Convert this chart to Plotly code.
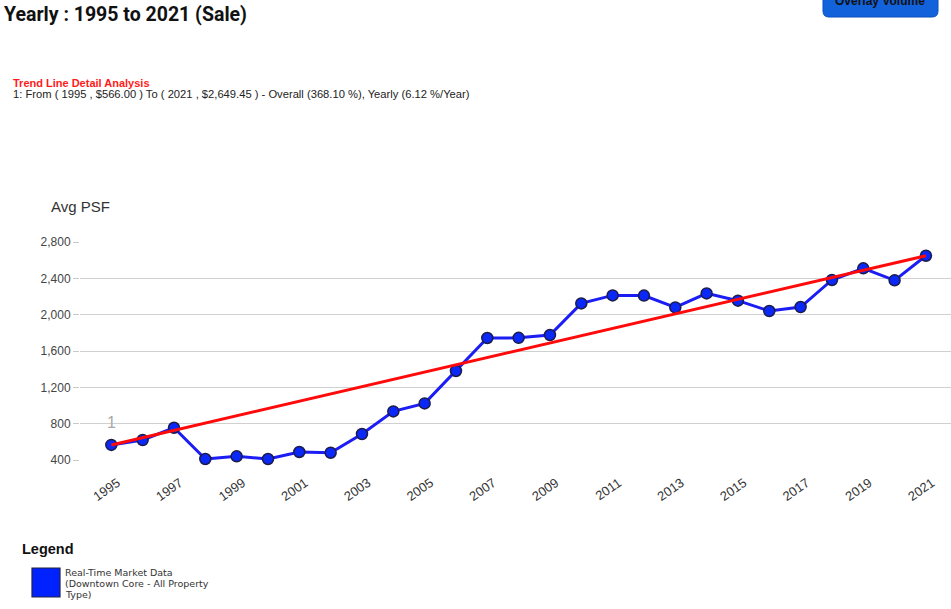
import plotly.graph_objects as go

years = list(range(1995, 2022))
avg_psf = [566, 620, 755, 411, 440, 411, 488, 480, 686, 935, 1023, 1380,
           1743, 1745, 1776, 2124, 2212, 2210, 2080, 2234, 2154, 2040, 2084,
           2382, 2510, 2378, 2649]
trend_years = [1995, 2021]
trend_values = [566.00, 2649.45]
tick_years = list(range(1995, 2022, 2))
y_ticks = [400, 800, 1200, 1600, 2000, 2400, 2800]

title_text = "Yearly : 1995 to 2021 (Sale)"
trend_title = "Trend Line Detail Analysis"
trend_detail = "1: From ( 1995 , $566.00 ) To ( 2021 , $2,649.45 ) - Overall (368.10 %), Yearly (6.12 %/Year)"
legend_lines = ["Real-Time Market Data", "(Downtown Core - All Property", "Type)"]

L, T, B = 80, 242, 460  # plot area pixel edges
W, H = 951, 609

fig = go.Figure()
fig.add_trace(go.Scatter(
    x=years, y=avg_psf, mode="lines+markers",
    line=dict(color="#1c1cf5", width=3),
    marker=dict(size=11, color="#0a28f8", line=dict(color="#1c1c4a", width=1.5)),
    cliponaxis=False, showlegend=False,
))
fig.add_trace(go.Scatter(
    x=trend_years, y=trend_values, mode="lines",
    line=dict(color="#ff0a0a", width=3),
    cliponaxis=False, showlegend=False,
))

fig.update_layout(
    width=W, height=H,
    margin=dict(l=L, r=0, t=T, b=H - B),
    paper_bgcolor="white", plot_bgcolor="white",
    font=dict(family="Liberation Sans, Arial, sans-serif", color="#333"),
    xaxis=dict(range=[1994.0, 2021.8], tickvals=tick_years, tickangle=-35,
               showgrid=False, zeroline=False, showline=False,
               tickfont=dict(size=13, color="#333"), ticks="",
               ticklabelstandoff=12, ticklabelshift=6),
    yaxis=dict(range=[400, 2800], tickvals=y_ticks, tickformat=",",
               showgrid=True, gridcolor="#d0d0d0", gridwidth=1.2,
               zeroline=False, showline=False,
               ticks="outside", ticklen=6, tickcolor="#c8c8c8",
               tickfont=dict(size=12, color="#444")),
)

def text_at(xp, yp, text, size, color, family="Liberation Sans, Arial, sans-serif",
            xanchor="left"):
    return dict(xref="paper", yref="paper", x=0, y=1, xanchor=xanchor, yanchor="middle",
                text=text, showarrow=False, align="left",
                font=dict(family=family, size=size, color=color),
                xshift=xp - L, yshift=T - yp)

ann = [
    text_at(2, 14, f"<b>{title_text}</b>", 19.5, "#111", "Roboto, Liberation Sans, sans-serif"),
    text_at(11, 83, f"<b>{trend_title}</b>", 11, "#ff1a1a"),
    text_at(11, 93.5, trend_detail, 11.2, "#222"),
    text_at(49, 206, "Avg PSF", 15, "#333"),
    text_at(20, 549, "<b>Legend</b>", 14.5, "#111"),
    text_at(880, 1, "<b>Overlay Volume</b>", 12, "#111", xanchor="center"),
]
for i, line in enumerate(legend_lines):
    ann.append(text_at(63, 572 + 11 * i, line, 9.5, "#333", "DejaVu Sans, sans-serif"))
ann.append(dict(x=years[0], y=avg_psf[0], text="1", showarrow=False,
                yshift=22, font=dict(size=16, color="#aaaaaa")))
fig.update_layout(annotations=ann)

pw = W - L
ph = B - T
def px(xp):
    return (xp - L) / pw
def py(yp):
    return (B - yp) / ph

shapes = []
shapes.append(dict(type="rect", xref="paper", yref="paper",
                   x0=px(32), x1=px(60), y0=py(597), y1=py(568),
                   fillcolor="#0022ff", line=dict(color="#222244", width=1.2)))
x0b, x1b, y0b, y1b, r = px(823), px(938), py(-10), py(17), 6
rx = r / pw
ry = r / ph
path = (f"M {x0b},{y0b} L {x1b},{y0b} L {x1b},{y1b + ry} "
        f"Q {x1b},{y1b} {x1b - rx},{y1b} L {x0b + rx},{y1b} "
        f"Q {x0b},{y1b} {x0b},{y1b + ry} Z")
shapes.append(dict(type="path", xref="paper", yref="paper", path=path,
                   fillcolor="#1262dc", line=dict(color="#0b4fc0", width=1)))
fig.update_layout(shapes=shapes)

fig.write_html("out.html", config={"displayModeBar": False},
               post_script="document.body.style.margin='0';")
